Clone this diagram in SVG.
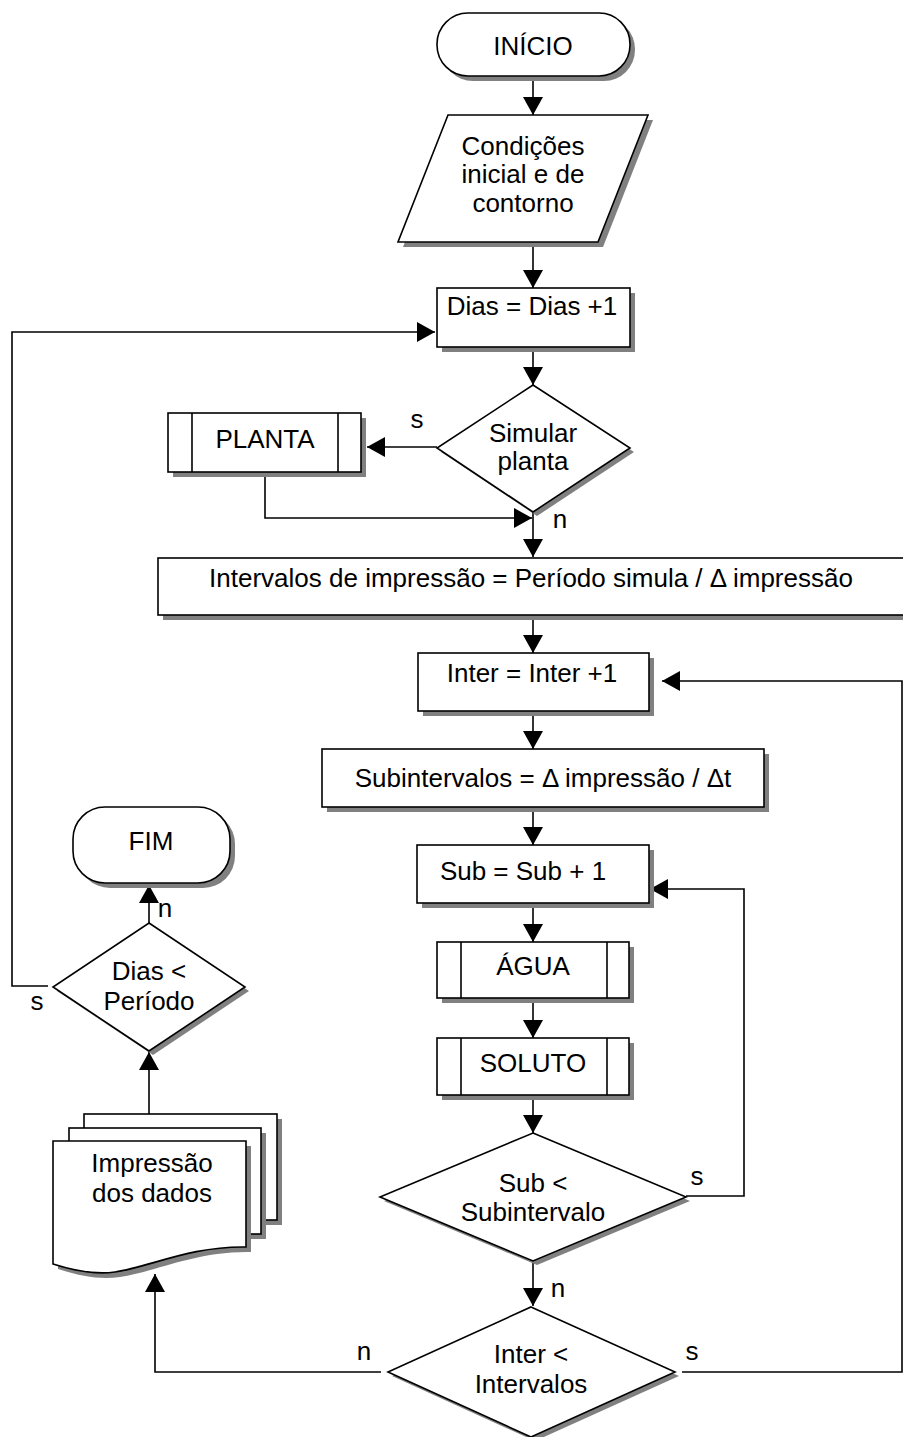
<svg xmlns="http://www.w3.org/2000/svg" width="903" height="1437" viewBox="0 0 903 1437">
<style>
.sh{fill:#808080;stroke:none}
.nd{fill:#fff;stroke:#000;stroke-width:1.6}
.ln{fill:none;stroke:#000;stroke-width:1.6}
text{font-family:"Liberation Sans",Arial,sans-serif;font-size:26px;fill:#000}
.c{text-anchor:middle}
</style>
<defs>
<marker id="ah" viewBox="0 0 18 20" refX="18" refY="10" markerWidth="18" markerHeight="20" markerUnits="userSpaceOnUse" orient="auto">
<path d="M0,0 L18,10 L0,20 z" fill="#000"/>
</marker>
</defs>
<rect x="0" y="0" width="903" height="1437" fill="#fff"/>

<g id="connectors">
<line class="ln" x1="533" y1="76" x2="533" y2="115" marker-end="url(#ah)"/>
<line class="ln" x1="533" y1="242" x2="533" y2="288" marker-end="url(#ah)"/>
<line class="ln" x1="533" y1="347" x2="533" y2="385" marker-end="url(#ah)"/>
<line class="ln" x1="437" y1="447" x2="367" y2="447" marker-end="url(#ah)"/>
<polyline class="ln" points="265,472 265,518 532,518" marker-end="url(#ah)"/>
<line class="ln" x1="533" y1="512" x2="533" y2="557" marker-end="url(#ah)"/>
<line class="ln" x1="533" y1="615" x2="533" y2="653" marker-end="url(#ah)"/>
<line class="ln" x1="533" y1="711" x2="533" y2="749" marker-end="url(#ah)"/>
<line class="ln" x1="533" y1="807" x2="533" y2="845" marker-end="url(#ah)"/>
<line class="ln" x1="533" y1="903" x2="533" y2="942" marker-end="url(#ah)"/>
<line class="ln" x1="533" y1="998" x2="533" y2="1038" marker-end="url(#ah)"/>
<line class="ln" x1="533" y1="1095" x2="533" y2="1133" marker-end="url(#ah)"/>
<polyline class="ln" points="686,1196 744,1196 744,889 650,889" marker-end="url(#ah)"/>
<line class="ln" x1="533" y1="1261" x2="533" y2="1306" marker-end="url(#ah)"/>
<polyline class="ln" points="682,1372 902,1372 902,681 662,681" marker-end="url(#ah)"/>
<polyline class="ln" points="381,1372 155,1372 155,1274" marker-end="url(#ah)"/>
<line class="ln" x1="149" y1="1114" x2="149" y2="1052" marker-end="url(#ah)"/>
<line class="ln" x1="149" y1="923" x2="149" y2="885" marker-end="url(#ah)"/>
<polyline class="ln" points="48,986 12,986 12,332 435,332" marker-end="url(#ah)"/>
<text x="417" y="428" class="c">s</text>
<text x="560" y="528" class="c">n</text>
<text x="697" y="1185" class="c">s</text>
<text x="558" y="1297" class="c">n</text>
<text x="692" y="1360" class="c">s</text>
<text x="364" y="1360" class="c">n</text>
<text x="165" y="917" class="c">n</text>
<text x="37" y="1010" class="c">s</text>
</g>

<g id="inicio">
<rect class="sh" x="442" y="18" width="193" height="63" rx="31"/>
<rect class="nd" x="437" y="13" width="193" height="63" rx="31"/>
<text x="533" y="55" class="c">INÍCIO</text>
</g>

<g id="condicoes">
<polygon class="sh" points="453,120 653,120 603,247 403,247"/>
<polygon class="nd" points="448,115 648,115 598,242 398,242"/>
<text x="523" y="155" class="c">Condições</text>
<text x="523" y="183" class="c">inicial e de</text>
<text x="523" y="212" class="c">contorno</text>
</g>

<g id="dias">
<rect class="sh" x="442" y="293" width="193" height="59"/>
<rect class="nd" x="437" y="288" width="193" height="59"/>
<text x="532" y="315" class="c">Dias = Dias +1</text>
</g>

<g id="simular">
<polygon class="sh" points="537,389 634,452 537,516 441,452"/>
<polygon class="nd" points="533,385 630,448 533,512 437,448"/>
<text x="533" y="442" class="c">Simular</text>
<text x="533" y="470" class="c">planta</text>
</g>

<g id="planta">
<rect class="sh" x="173" y="418" width="193" height="59"/>
<rect class="nd" x="168" y="413" width="193" height="59"/>
<line class="ln" x1="192" y1="413" x2="192" y2="472"/>
<line class="ln" x1="338" y1="413" x2="338" y2="472"/>
<text x="265" y="448" class="c">PLANTA</text>
</g>

<g id="intervalos">
<rect class="sh" x="163" y="563" width="747" height="57"/>
<rect class="nd" x="158" y="558" width="750" height="57"/>
<text x="531" y="587" class="c">Intervalos de impressão = Período simula / Δ impressão</text>
</g>

<g id="inter">
<rect class="sh" x="423" y="658" width="231" height="58"/>
<rect class="nd" x="418" y="653" width="231" height="58"/>
<text x="532" y="682" class="c">Inter = Inter +1</text>
</g>

<g id="subintervalos">
<rect class="sh" x="327" y="754" width="442" height="58"/>
<rect class="nd" x="322" y="749" width="442" height="58"/>
<text x="543" y="787" class="c">Subintervalos = Δ impressão / Δt</text>
</g>

<g id="sub">
<rect class="sh" x="422" y="850" width="232" height="58"/>
<rect class="nd" x="417" y="845" width="232" height="58"/>
<text x="523" y="880" class="c">Sub = Sub + 1</text>
</g>

<g id="agua">
<rect class="sh" x="442" y="947" width="192" height="56"/>
<rect class="nd" x="437" y="942" width="192" height="56"/>
<line class="ln" x1="461" y1="942" x2="461" y2="998"/>
<line class="ln" x1="607" y1="942" x2="607" y2="998"/>
<text x="533" y="975" class="c">ÁGUA</text>
</g>

<g id="soluto">
<rect class="sh" x="442" y="1043" width="192" height="57"/>
<rect class="nd" x="437" y="1038" width="192" height="57"/>
<line class="ln" x1="461" y1="1038" x2="461" y2="1095"/>
<line class="ln" x1="607" y1="1038" x2="607" y2="1095"/>
<text x="533" y="1072" class="c">SOLUTO</text>
</g>

<g id="subdecisao">
<polygon class="sh" points="537,1137 690,1201 537,1265 384,1201"/>
<polygon class="nd" points="533,1133 686,1197 533,1261 380,1197"/>
<text x="533" y="1192" class="c">Sub &lt;</text>
<text x="533" y="1221" class="c">Subintervalo</text>
</g>

<g id="interdecisao">
<polygon class="sh" points="535,1311 679,1376 535,1441 392,1376"/>
<polygon class="nd" points="531,1307 675,1372 531,1437 388,1372"/>
<text x="531" y="1363" class="c">Inter &lt;</text>
<text x="531" y="1393" class="c">Intervalos</text>
</g>

<g id="impressao">
<rect class="sh" x="89" y="1119" width="193" height="106"/>
<rect class="nd" x="84" y="1114" width="193" height="106"/>
<rect class="sh" x="74" y="1133" width="192" height="106"/>
<rect class="nd" x="69" y="1128" width="192" height="106"/>
<path class="sh" d="M58,1146 H251 V1252 C195,1251 155,1272 120,1277 C100,1280 80,1276 58,1269 Z"/>
<path class="nd" d="M53,1141 H246 V1247 C190,1246 150,1267 115,1272 C95,1275 75,1271 53,1264 Z"/>
<text x="152" y="1172" class="c">Impressão</text>
<text x="152" y="1202" class="c">dos dados</text>
</g>

<g id="diasdecisao">
<polygon class="sh" points="153,927 249,991 153,1055 57,991"/>
<polygon class="nd" points="149,923 245,987 149,1051 53,987"/>
<text x="149" y="980" class="c">Dias &lt;</text>
<text x="149" y="1010" class="c">Período</text>
</g>

<g id="fim">
<rect class="sh" x="78" y="812" width="157" height="76" rx="32"/>
<rect class="nd" x="73" y="807" width="157" height="76" rx="32"/>
<text x="151" y="850" class="c">FIM</text>
</g>
</svg>
